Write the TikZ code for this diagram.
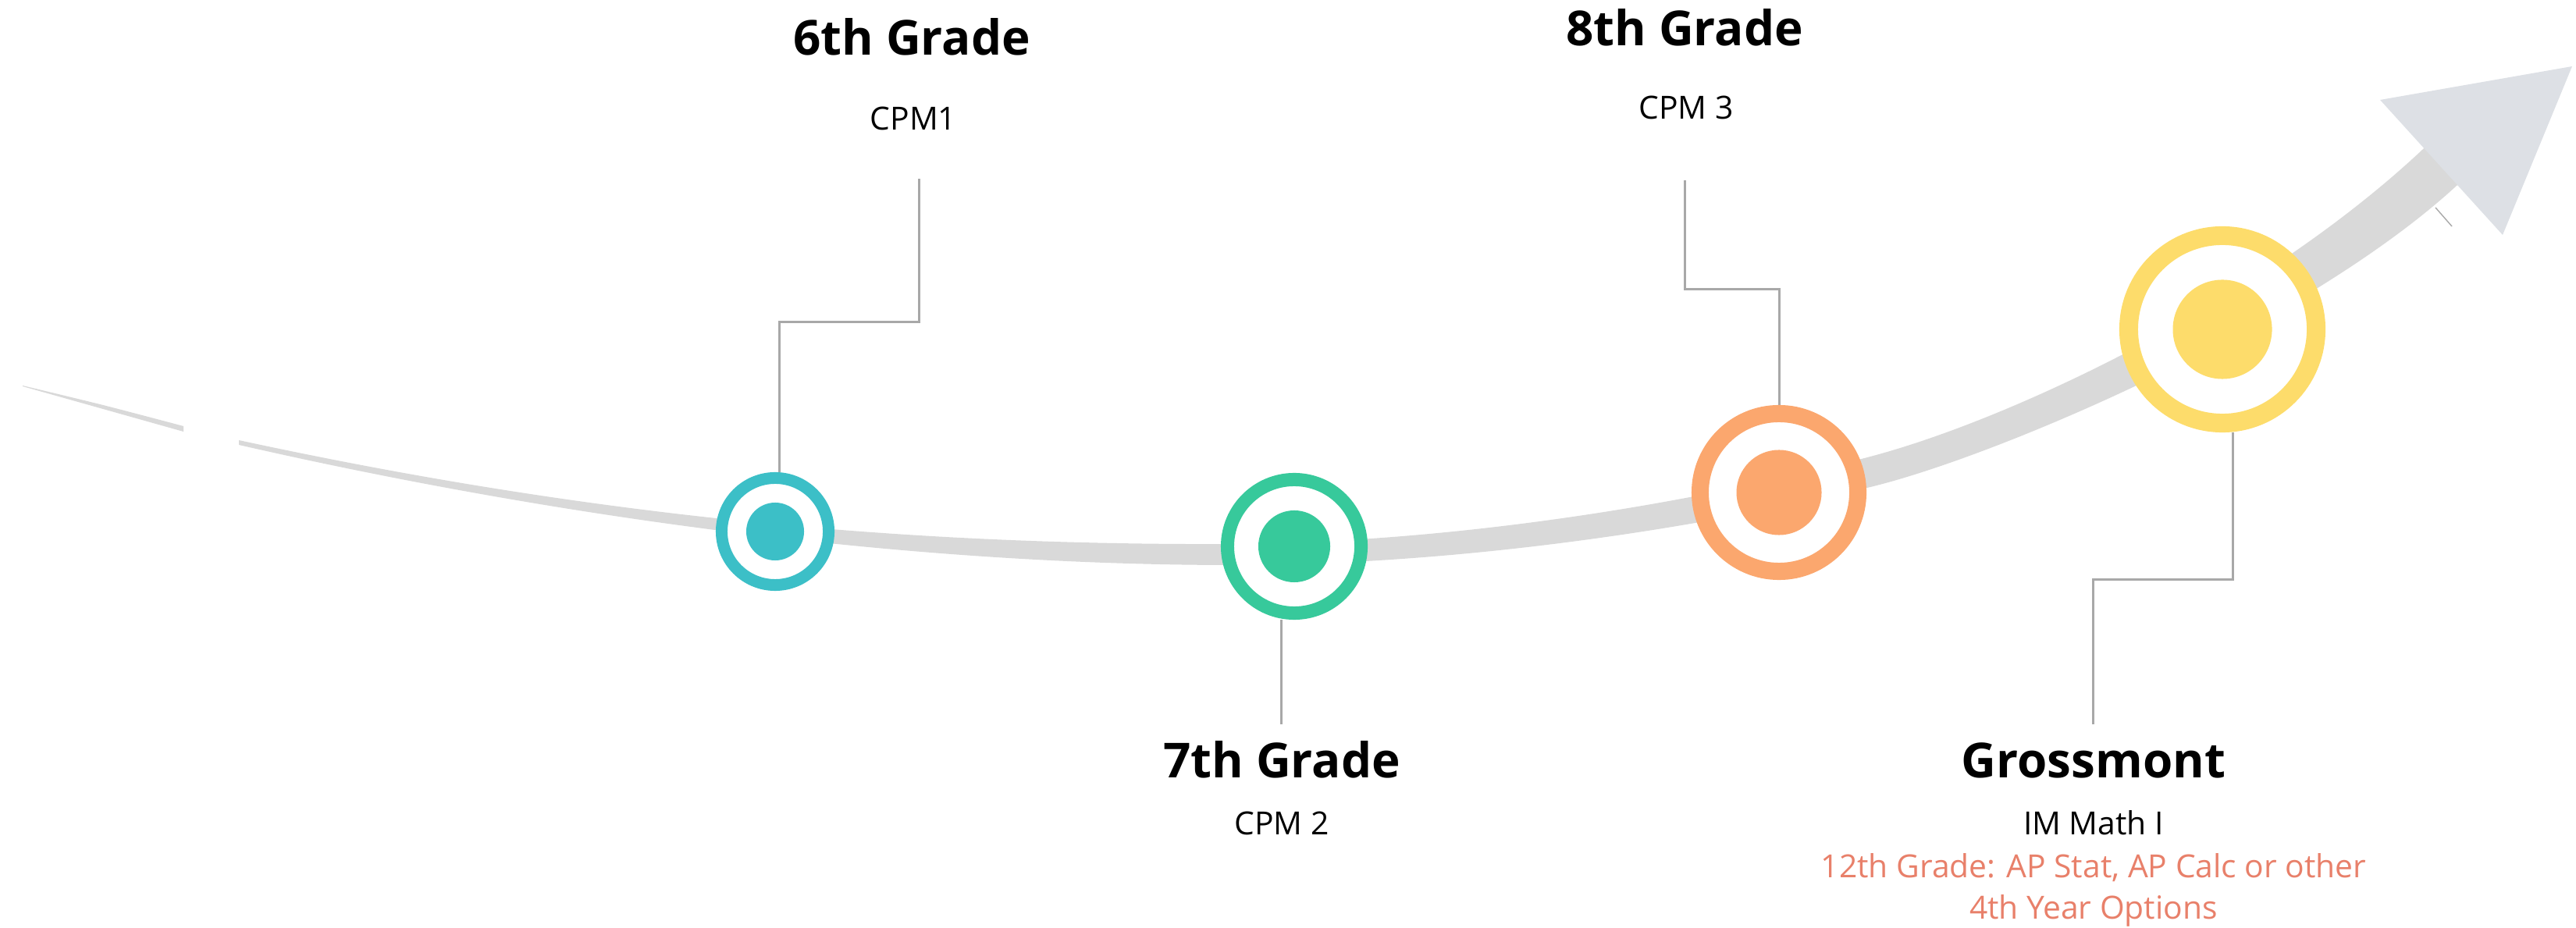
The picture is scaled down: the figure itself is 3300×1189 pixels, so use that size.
\documentclass[tikz,border=0pt]{standalone}
\usepackage{fontspec}
\setmainfont{Open Sans}
\usepackage{tikz}
\usetikzlibrary{calc, positioning, backgrounds}

\definecolor{tealRing}{HTML}{3CBFC7}
\definecolor{greenRing}{HTML}{37C99B}
\definecolor{orangeRing}{HTML}{FBA76E}
\definecolor{yellowRing}{HTML}{FDDC6B}
\definecolor{bandGray}{HTML}{D9D9D9}
\definecolor{tipGray}{HTML}{DDE0E5}
\definecolor{linkGray}{HTML}{A8A8A8}
\definecolor{noteRed}{HTML}{E8806A}

\begin{document}
\begin{tikzpicture}[x=0.01cm, y=-0.01cm,
  ring/.style n args={3}{circle, draw=#1, fill=white, line width=#2, minimum size=#3, inner sep=0pt},
  link/.style={draw=linkGray, line width=0.85pt},
  grade/.style={anchor=base, font=\fontsize{17.6}{20}\selectfont\bfseries},
  course/.style={anchor=base, font=\fontsize{11.6}{14}\selectfont}]

\useasboundingbox (0,0) rectangle (3300,1189);

% Rings on the path
\node[ring={tealRing}{0.15cm}{1.37cm}] (c6) at (993,681) {};
\node[ring={greenRing}{0.17cm}{1.71cm}] (c7) at (1658,700) {};
\node[ring={orangeRing}{0.22cm}{2.02cm}] (c8) at (2279,631) {};
\node[ring={yellowRing}{0.24cm}{2.40cm}] (cg) at (2847,422) {};
\fill[tealRing] (c6) circle (0.37cm);
\fill[greenRing] (c7) circle (0.46cm);
\fill[orangeRing] (c8) circle (0.545cm);
\fill[yellowRing] (cg) circle (0.635cm);

\begin{scope}[on background layer]
% Thin start of the band
\fill[bandGray] plot[smooth] coordinates {(29,494) (132,519) (235,546)}
  -- plot[smooth] coordinates {(235,553) (132,524) (29,495)} -- cycle;
% Band, getting wider to the right
\fill[bandGray] (306,564) .. controls (750,660) and (1150,699) .. (1580,697)
  .. controls (1850,695) and (2150,650) .. (2396,585)
  .. controls (2596,532) and (2950,359) .. (3150,145)
  -- (3185,200)
  .. controls (3011,391) and (2570,582) .. (2396,624)
  .. controls (2150,683) and (1850,724) .. (1580,724)
  .. controls (1150,724) and (700,660) .. (306,570) -- cycle;
% Arrow tip
\fill[tipGray] (3049,128) -- (3295,85) -- (3206,301) -- cycle;
\draw[linkGray, line width=0.4pt] (3120,266) -- (3141,290);

% Connectors
\coordinate (k6) at (1177,229);
\coordinate (k7) at (1641,928);
\coordinate (k8) at (2158,231);
\coordinate (kg) at (2681,928);
\draw[link] (k6) -- ++(0,184) -| ([xshift=0.05cm]c6.north);
\draw[link] (c7.south -| k7) -- (k7);
\draw[link] (c8.north) -- ++(0,-148) -| (k8);
\draw[link] ([xshift=0.13cm]cg.south) -- ++(0,188) -| (kg);
\end{scope}

% Labels
\node[grade] (g6) at (1168,71) {6th Grade};
\node[course] (cpm1) at (1170,167) {CPM1};
\node[grade] (g8) at (2158,59) {8th Grade};
\node[course] (cpm3) at (2160,153) {CPM 3};
\node[grade] (g7) at (1642,997) {7th Grade};
\node[course] (cpm2) at (1642,1070) {CPM 2};
\node[grade] (gm) at (2682,997) {Grossmont};
\node[course] (im1) at (2682,1070) {IM Math I};
\node[course, text=noteRed] (ap1) at (2682,1124) {12th Grade: AP Stat, AP Calc or other};
\node[course, text=noteRed] (ap2) at (2682,1177) {4th Year Options};

\end{tikzpicture}
\end{document}
